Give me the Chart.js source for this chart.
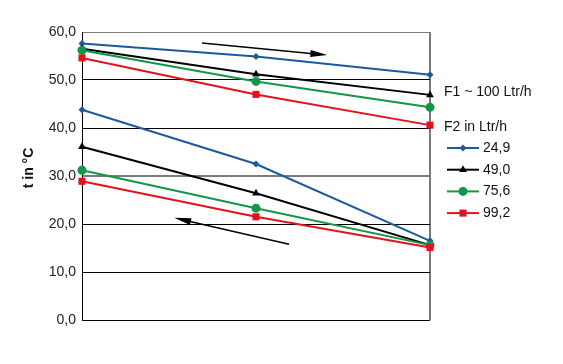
<!DOCTYPE html>
<html>
<head>
<meta charset="utf-8">
<script src="https://cdn.jsdelivr.net/npm/chart.js@4/dist/chart.umd.min.js"></script>
<style>
  html, body { margin: 0; padding: 0; background: #fff; }
  #wrap { width: 563px; height: 364px; }
</style>
</head>
<body>
<div id="wrap"><canvas id="chart" width="563" height="364"></canvas></div>
<script>
// positions along the exchanger (no labels in the original)
const positions = [0, 1, 2];
const yTicks = [0, 10, 20, 30, 40, 50, 60];

// F2 flow rates (legend)
const flowLabels = ['24,9', '49,0', '75,6', '99,2'];

// F1 side (~100 Ltr/h), upper curves, temperatures in °C
const f1At249 = [57.6, 54.9, 51.1];
const f1At490 = [56.5, 51.2, 46.9];
const f1At756 = [56.2, 49.7, 44.3];
const f1At992 = [54.6, 47.0, 40.6];

// F2 side, lower curves
const f2At249 = [43.8, 32.5, 16.5];
const f2At490 = [36.1, 26.4, 15.6];
const f2At756 = [31.2, 23.3, 15.6];
const f2At992 = [28.9, 21.5, 15.1];

// flow direction arrows [fromX, fromY, toX, toY] in data units
const arrowF1 = [0.69, 57.7, 1.41, 55.2];
const arrowF2 = [1.19, 15.8, 0.53, 21.3];

const styles = [
  { color: '#1c5a9e', point: 'rectRot', radius: 3.5 },
  { color: '#000000', point: 'triangle', radius: 4.5 },
  { color: '#129647', point: 'circle', radius: 4.5 },
  { color: '#e3121c', point: 'rect', radius: 5 }
];

const upper = [f1At249, f1At490, f1At756, f1At992];
const lower = [f2At249, f2At490, f2At756, f2At992];

function toPoints(vals) {
  return vals.map((v, i) => ({ x: positions[i], y: v }));
}

const datasets = [];
[upper, lower].forEach(group => {
  group.forEach((vals, i) => {
    const s = styles[i];
    datasets.push({
      label: flowLabels[i],
      data: toPoints(vals),
      borderColor: s.color,
      backgroundColor: s.color,
      borderWidth: 2,
      pointStyle: s.point,
      pointRadius: s.radius,
      pointBorderWidth: 0,
      tension: 0,
      clip: false,
      order: 3 - i
    });
  });
});

const fmt = v => v.toFixed(1).replace('.', ',');

const extrasPlugin = {
  id: 'extras',
  afterDatasetsDraw(chart) {
    const ctx = chart.ctx;
    const xs = chart.scales.x, ys = chart.scales.y;

    // arrows
    [arrowF1, arrowF2].forEach(a => {
      const x1 = xs.getPixelForValue(a[0]), y1 = ys.getPixelForValue(a[1]);
      const x2 = xs.getPixelForValue(a[2]), y2 = ys.getPixelForValue(a[3]);
      const ang = Math.atan2(y2 - y1, x2 - x1);
      ctx.save();
      ctx.strokeStyle = '#000';
      ctx.fillStyle = '#000';
      ctx.lineWidth = 1.5;
      ctx.beginPath();
      ctx.moveTo(x1, y1);
      ctx.lineTo(x2 - 14 * Math.cos(ang), y2 - 14 * Math.sin(ang));
      ctx.stroke();
      ctx.translate(x2, y2);
      ctx.rotate(ang);
      ctx.beginPath();
      ctx.moveTo(0, 0);
      ctx.lineTo(-17, -3.5);
      ctx.lineTo(-17, 3.5);
      ctx.closePath();
      ctx.fill();
      ctx.restore();
    });
  },
  afterDraw(chart) {
    const ctx = chart.ctx;
    ctx.save();
    // y title
    ctx.fillStyle = '#111';
    ctx.font = 'bold 14px "Liberation Sans", Arial, sans-serif';
    ctx.textAlign = 'center';
    ctx.textBaseline = 'middle';
    ctx.translate(29, 168);
    ctx.rotate(-Math.PI / 2);
    ctx.fillText('t in °C', 0, 0);
    ctx.restore();

    // legend
    ctx.save();
    ctx.font = '14px "Liberation Sans", Arial, sans-serif';
    ctx.fillStyle = '#111';
    ctx.textAlign = 'left';
    ctx.textBaseline = 'middle';
    ctx.fillText('F1 ~ 100 Ltr/h', 444, 92);
    ctx.fillText('F2 in Ltr/h', 444, 127);
    flowLabels.forEach((lab, i) => {
      const y = 148 + i * 21.7;
      const s = styles[i];
      ctx.strokeStyle = s.color;
      ctx.fillStyle = s.color;
      ctx.lineWidth = 2;
      ctx.beginPath();
      ctx.moveTo(447, y);
      ctx.lineTo(479, y);
      ctx.stroke();
      Chart.helpers.drawPoint(ctx, { pointStyle: s.point, radius: s.radius, rotation: 0, borderWidth: 0 }, 463, y);
      ctx.fillStyle = '#111';
      ctx.fillText(lab, 483, y);
    });
    ctx.restore();
  }
};

new Chart(document.getElementById('chart'), {
  type: 'line',
  data: { datasets },
  options: {
    responsive: false,
    animation: false,
    layout: { padding: { left: 0, right: 133, top: 32, bottom: 44 } },
    plugins: {
      legend: { display: false },
      tooltip: { enabled: false }
    },
    scales: {
      x: {
        type: 'linear',
        min: 0,
        max: 2,
        ticks: { display: false, stepSize: 1 },
        border: { display: false },
        grid: {
          drawTicks: false,
          color: c => c.tick.value === 2 ? '#7a7a7a' : 'rgba(0,0,0,0)',
          lineWidth: c => c.tick.value === 2 ? 2 : 1
        },
        afterFit: axis => { axis.height = 0; }
      },
      y: {
        min: 0,
        max: 60,
        afterBuildTicks: axis => { axis.ticks = yTicks.map(v => ({ value: v })); },
        ticks: {
          padding: 6,
          color: '#222',
          font: { family: '"Liberation Sans", Arial, sans-serif', size: 14 },
          callback: v => fmt(v)
        },
        border: { display: true, color: '#000', width: 1 },
        grid: {
          drawTicks: false,
          color: c => (c.tick.value === 30 || c.tick.value === 60) ? '#7a7a7a' : '#000',
          lineWidth: c => c.tick.value === 30 ? 2 : 1
        },
        afterFit: axis => { axis.width = 82; }
      }
    }
  },
  plugins: [extrasPlugin]
});
</script>
</body>
</html>
